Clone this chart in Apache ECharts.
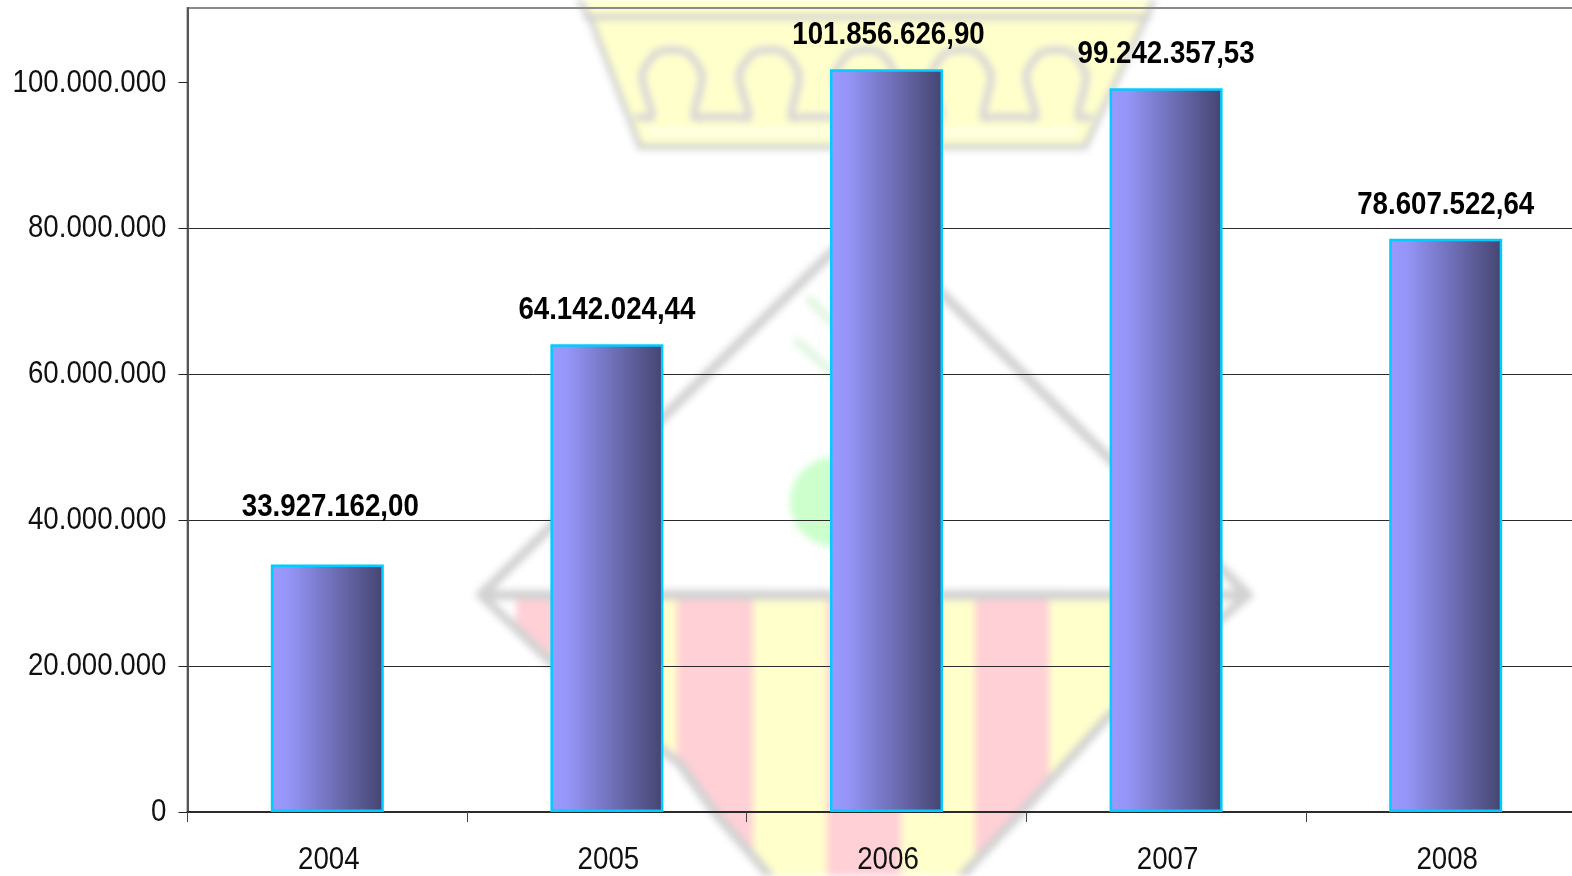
<!DOCTYPE html>
<html><head><meta charset="utf-8">
<style>html,body{margin:0;padding:0;background:#fff}#c{width:1572px;height:876px;isolation:isolate}</style>
<script src="https://cdn.jsdelivr.net/npm/echarts@6/dist/echarts.min.js"></script>
</head><body><div id="c"></div>
<script>
const categories = ['2004','2005','2006','2007','2008'];
const values = [33927162.00, 64142024.44, 101856626.90, 99242357.53, 78607522.64];
const valueLabels = ['33.927.162,00','64.142.024,44','101.856.626,90','99.242.357,53','78.607.522,64'];
const FONT = '"Liberation Sans",Arial,sans-serif';

// The reference text is a horizontally condensed Helvetica: narrow every glyph run about its anchor.
const TEXT_SQUEEZE = 0.865;
const nativeFillText = CanvasRenderingContext2D.prototype.fillText;
CanvasRenderingContext2D.prototype.fillText = function(t, x, y, w){
  this.save();
  this.translate(x * (1 - TEXT_SQUEEZE), 0);
  this.scale(TEXT_SQUEEZE, 1);
  if (w === undefined) nativeFillText.call(this, t, x, y); else nativeFillText.call(this, t, x, y, w);
  this.restore();
};
function fmt(v){return String(v).replace(/\B(?=(\d{3})+(?!\d))/g,'.');}

// Blurred crest behind the chart (decoration, not data)
const GREY='#d2d2d2',YEL='#ffffcc',RED='#ffd0d6',GRN='#ccffcc',PALE='#e2f6e2';
const WM_Z=-1;
function wmPoly(points,fill,stroke,lw,z){return {type:'polygon',zlevel:WM_Z,z:z,silent:true,shape:{points},
  style:{fill:fill||'transparent',stroke:stroke||'transparent',lineWidth:lw||0}};}
function wmLine(points,stroke,lw,z,smooth){return {type:'polyline',zlevel:WM_Z,z:z,silent:true,shape:{points,smooth:smooth||0},
  style:{fill:'transparent',stroke:stroke,lineWidth:lw,lineJoin:'round',lineCap:'round'}};}
const shieldTop=598;
const shieldEdge=[[481,595],[552,663],[640,733],[679,763],[715,813],[756,860],[830,950],[900,950],[970,867],[1021,813],[1108,717],[1248,595]];
function edgeY(x){for(let i=1;i<shieldEdge.length;i++){const a=shieldEdge[i-1],b=shieldEdge[i];
  if(x<=b[0]) return a[1]+(b[1]-a[1])*(x-a[0])/(b[0]-a[0]);} return shieldTop;}
function stripe(x0,x1,c){const pts=[[x0,shieldTop],[x1,shieldTop]];
  const inner=shieldEdge.filter(p=>p[0]>x0&&p[0]<x1).reverse();
  pts.push([x1,edgeY(x1)],...inner,[x0,edgeY(x0)]);return wmPoly(pts,c,null,0,2);}
const arches=[672,769,865,961,1056];
const archPts=[];
arches.forEach(c=>{archPts.push([c-34,117],[c-20,117],[c-30,75],[c-14,52],[c+14,52],[c+30,75],[c+22,117],[c+34,117]);});
const wm=[
  wmPoly([[575,-6],[1156,-6],[1146,18],[1085,147],[640,147],[590,18]],YEL,GREY,6,1),
  wmLine([[586,17],[1148,17]],GREY,6,3),
  wmLine(archPts,'#d6d4d8',7,3,0.25),
  wmLine([[650,132],[1075,132]],'#ffffe6',8,2),
  wmLine([[866,219],[1248,595],[481,595],[866,219]],GREY,10,4),
  wmLine(shieldEdge,GREY,9,4),
  stripe(516,604,RED),stripe(604,677,YEL),stripe(677,753,RED),stripe(753,827,YEL),
  stripe(827,901,RED),stripe(901,975,YEL),stripe(975,1049,RED),stripe(1049,1125,YEL),
  {type:'circle',zlevel:WM_Z,z:3,silent:true,shape:{cx:835,cy:502,r:45},style:{fill:GRN}},
  wmLine([[810,300],[832,322]],PALE,9,3),
  wmLine([[798,342],[832,372]],PALE,9,3)
];

const barData = values.map((v,i)=>({value:v,label:{offset: i===0?[3,-23]:(i===2?[2,0]:[0,0])}}));
const chart = echarts.init(document.getElementById('c'));
chart.getZr().painter.getLayer(WM_Z).dom.style.filter='blur(3.5px)';
chart.setOption({
 animation:false,
 backgroundColor:'transparent',
 graphic:{elements:wm},
 grid:{left:187.5,top:8,width:1398,height:804,containLabel:false,outerBoundsMode:'none',
  show:true,backgroundColor:'transparent',borderColor:'#8a8a8a',borderWidth:2},
 xAxis:{type:'category',data:categories,boundaryGap:true,
  axisLine:{lineStyle:{color:'#2b2b2b',width:2}},
  axisTick:{show:true,alignWithLabel:false,length:10,lineStyle:{color:'#444',width:1}},
  axisLabel:{color:'#111',fontFamily:FONT,fontSize:32,margin:32,align:'center',interval:0,padding:[0,0,0,3]}},
 yAxis:{type:'value',min:0,max:110250000,interval:20000000,
  axisLine:{show:true,lineStyle:{color:'#555',width:2}},
  axisTick:{show:true,length:9,lineStyle:{color:'#222',width:1},customValues:[0,20000000,40000000,60000000,80000000,100000000]},
  axisLabel:{color:'#111',fontFamily:FONT,fontSize:32,margin:21,showMaxLabel:false,formatter:fmt,padding:[2,0,0,0]},
  splitLine:{show:true,showMaxLine:false,showMinLine:false,lineStyle:{color:'#2b2b2b',width:1}}},
 series:[{type:'bar',data:barData,barWidth:113,
  itemStyle:{borderColor:'#00ccff',borderWidth:2.5,
   color:new echarts.graphic.LinearGradient(0,0,1,0,[{offset:0,color:'#9999ff'},{offset:0.15,color:'#9696f9'},{offset:1,color:'#444470'}])},
  label:{show:true,position:'top',distance:18,color:'#000',fontFamily:FONT,fontWeight:'bold',fontSize:32,
   formatter:p=>valueLabels[p.dataIndex]}}]
});
</script></body></html>
